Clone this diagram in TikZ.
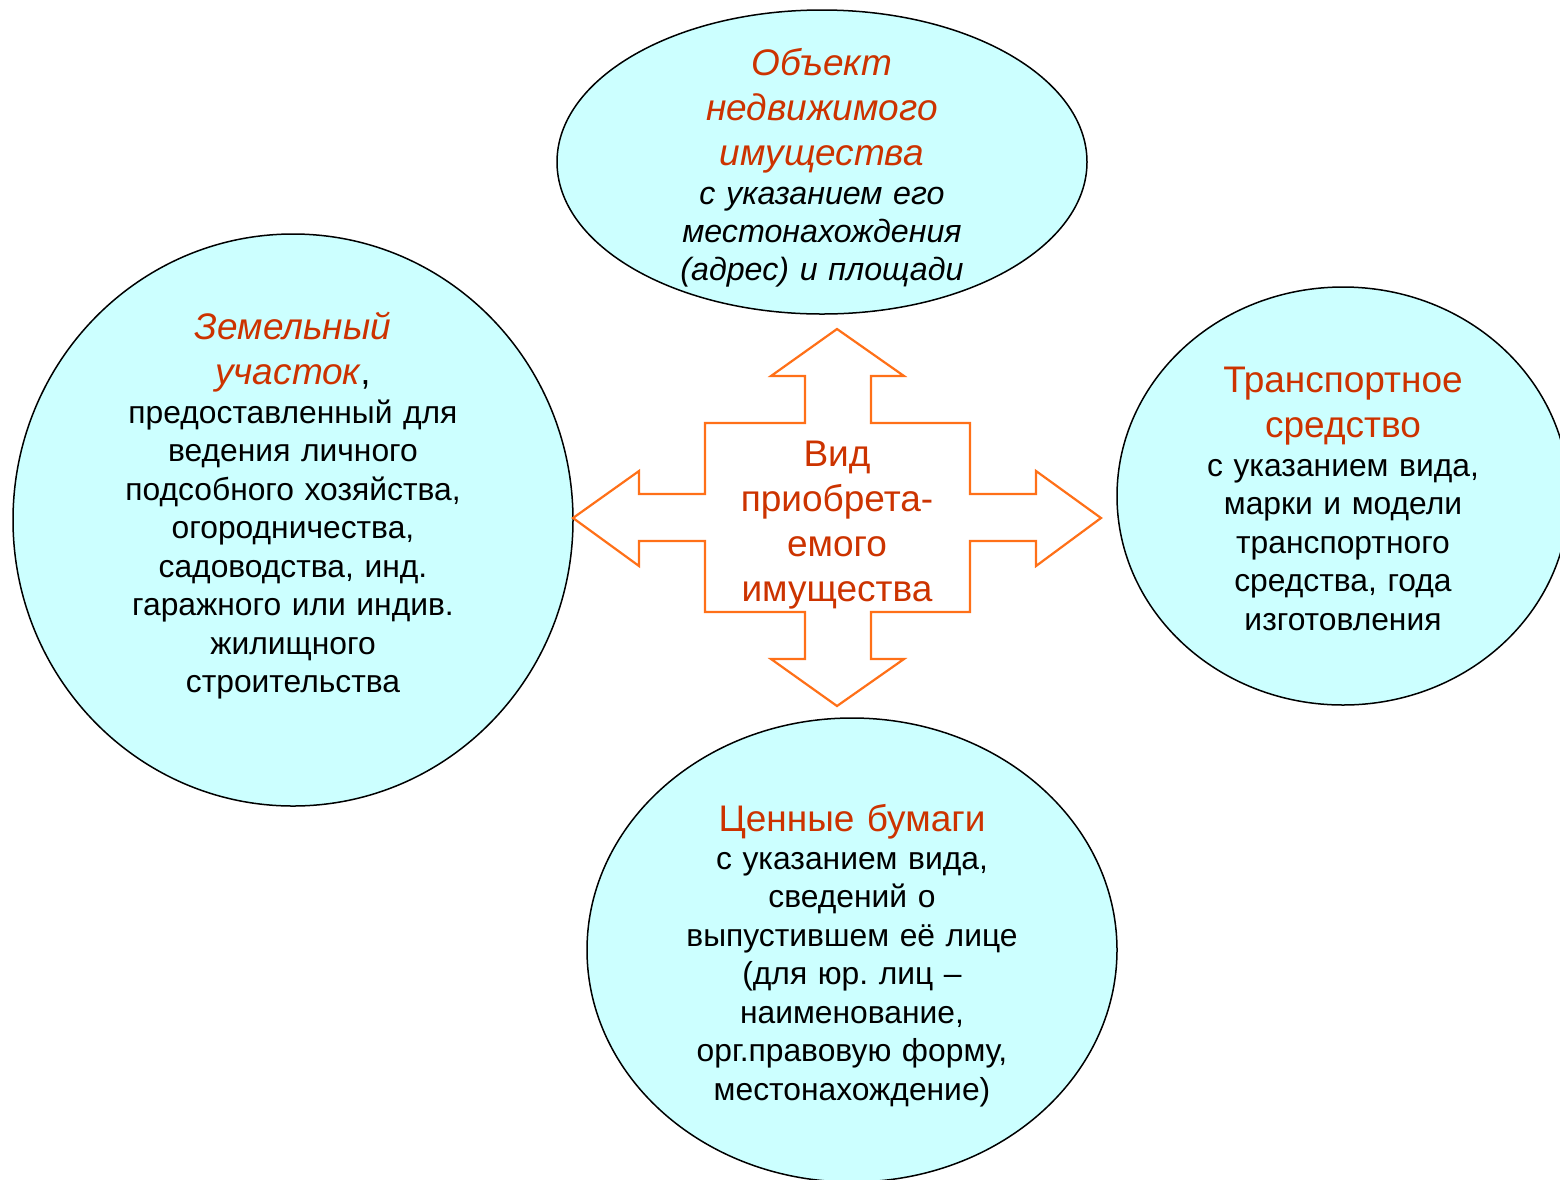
\documentclass[tikz,border=0pt]{standalone}
\usepackage{fontspec}
\setmainfont{Liberation Sans}
\usetikzlibrary{shapes.geometric}
\definecolor{fillc}{RGB}{204,255,255}
\definecolor{titlec}{RGB}{204,51,0}
\definecolor{arrowc}{RGB}{255,112,24}
\frenchspacing
\begin{document}
\begin{tikzpicture}[x=1pt,y=-1pt,
  blob/.style={ellipse, draw=black, line width=1.5pt, fill=fillc, inner sep=0pt},
  ttl/.style={text=titlec, align=center, anchor=base, font=\fontsize{37}{45}\selectfont, inner sep=0pt, text width=600pt},
  bdy/.style={text=black, align=center, anchor=base, font=\fontsize{31.8}{38.5}\selectfont, inner sep=0pt, text width=600pt},
  crossline/.style={draw=arrowc, line width=2.2pt, line join=miter}]
\useasboundingbox (0,0) rectangle (1560,1179);
\clip (0,0) rectangle (1560,1179);
\fill[white] (0,0) rectangle (1560,1179);

% ellipses
\node[blob, minimum width=530pt, minimum height=304pt] (obj) at (822,162) {};
\node[blob, minimum width=560pt, minimum height=572pt] (land) at (293,520) {};
\node[blob, minimum width=452pt, minimum height=418pt] (trans) at (1343,496) {};
\node[blob, minimum width=530pt, minimum height=464pt] (sec) at (852,950) {};

% central cross arrow
\draw[crossline] (837,329) -- (904,376) -- (871,376) -- (871,423) -- (970,423) -- (970,494)
  -- (1036,494) -- (1036,471) -- (1101,518) -- (1036,566) -- (1036,541) -- (970,541)
  -- (970,612) -- (871,612) -- (871,659) -- (904,659) -- (837,706) -- (771,659)
  -- (805,659) -- (805,612) -- (705,612) -- (705,541) -- (639,541) -- (639,566)
  -- (573,518) -- (639,471) -- (639,494) -- (705,494) -- (705,423) -- (805,423)
  -- (805,376) -- (771,376) -- cycle;

% texts
\node[ttl] (centertxt) at (837,466) {Вид\\приобрета-\\емого\\имущества};

\node[ttl, font=\fontsize{37}{45}\selectfont\itshape] (objt) at (822,75) {Объект\\недвижимого\\имущества};
\node[bdy, font=\fontsize{32.2}{38}\selectfont\itshape] (objb) at (822,204) {с указанием его\\местонахождения\\(адрес) и площади};

\node[ttl] (landt) at (293,339) {{\itshape Земельный}\\{\itshape участок}\textcolor{black}{,}};
\node[bdy] (landb) at (293,423) {предоставленный для\\ведения личного\\подсобного хозяйства,\\огородничества,\\садоводства, инд.\\гаражного или индив.\\жилищного\\строительства};

\node[ttl] (transt) at (1343,392) {Транспортное\\средство};
\node[bdy] (transb) at (1343,476) {с указанием вида,\\марки и модели\\транспортного\\средства, года\\изготовления};

\node[ttl] (sect) at (852,831) {Ценные бумаги};
\node[bdy] (secb) at (852,869) {с указанием вида,\\сведений о\\выпустившем её лице\\(для юр. лиц –\\наименование,\\орг.правовую форму,\\местонахождение)};
\end{tikzpicture}
\end{document}
